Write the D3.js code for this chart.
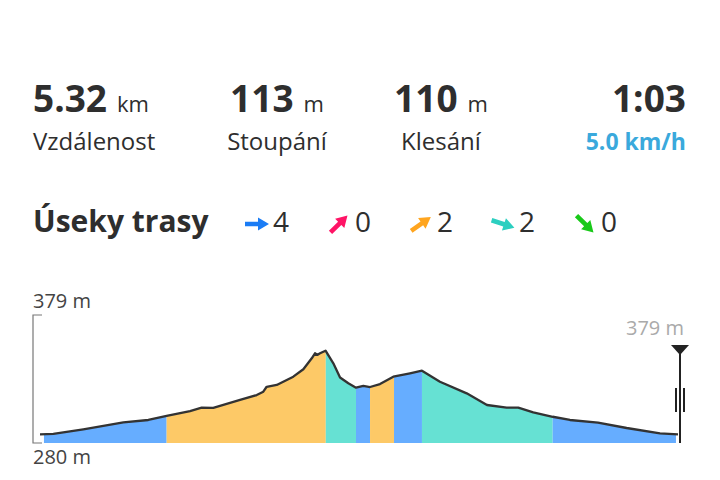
<!DOCTYPE html>
<html>
<head>
<meta charset="utf-8">
<script src="https://cdn.jsdelivr.net/npm/d3@7"></script>
<style>
  body { margin: 0; background: #fff; }
  svg { display: block; font-family: "Open Sans", sans-serif; }
</style>
</head>
<body>
<div id="chart"></div>
<script>
// header stats
const statValues = ["5.32", "113", "110", "1:03"];
const statUnits = ["km", "m", "m", ""];
const statLabels = ["Vzdálenost", "Stoupání", "Klesání", "5.0 km/h"];

// route sections legend
const sectionTitle = "Úseky trasy";
const sectionKeys = ["flat", "steepUp", "up", "down", "steepDown"];
const sectionCounts = [4, 0, 2, 2, 0];

// elevation profile
const distanceKm = [0, 0.111, 0.361, 0.695, 0.903, 1.056, 1.251, 1.348, 1.445, 1.668, 1.807, 1.862, 1.890, 1.974, 2.112, 2.196, 2.266, 2.293, 2.312, 2.335, 2.381, 2.446, 2.502, 2.571, 2.635, 2.696, 2.752, 2.835, 2.946, 3.085, 3.185, 3.335, 3.558, 3.727, 3.891, 3.988, 4.113, 4.275, 4.419, 4.653, 4.892, 5.170, 5.32];
const elevationM = [286.7, 287.0, 290.6, 296.0, 297.8, 300.9, 304.7, 307.3, 307.1, 313.3, 317.1, 319.7, 323.5, 324.9, 331.3, 337.0, 345.5, 349.4, 348.1, 349.4, 351.4, 341.6, 330.7, 326.2, 322.8, 324.1, 323.3, 325.6, 331.3, 333.9, 335.9, 327.4, 318.4, 309.4, 307.3, 307.3, 303.7, 300.3, 297.8, 295.7, 291.6, 287.5, 286.7];

// coloured route segments
const segStartKm = [0.033, 1.056, 2.383, 2.635, 2.752, 2.952, 3.185, 4.275];
const segEndKm = [1.056, 2.383, 2.635, 2.752, 2.952, 3.185, 4.275, 5.303];
const segType = ["flat", "up", "down", "flat", "up", "flat", "down", "flat"];

const elevMin = 280, elevMax = 379;
const markerElev = 379;

const width = 720, height = 480;

const svg = d3.select("#chart").append("svg")
    .attr("width", width)
    .attr("height", height);

const dark = "#2e2e2e";

// ---- header ----
const colX = [33, 277, 441, 686];
const colAnchor = ["start", "middle", "middle", "end"];

statValues.forEach((v, i) => {
    const t = svg.append("text")
        .attr("x", colX[i])
        .attr("y", 112)
        .attr("text-anchor", colAnchor[i])
        .attr("fill", dark);
    t.append("tspan")
        .attr("font-size", 37)
        .attr("font-weight", 700)
        .text(v);
    if (statUnits[i]) {
        t.append("tspan")
            .attr("dx", 10)
            .attr("font-size", 22)
            .text(statUnits[i]);
    }
});

statLabels.forEach((l, i) => {
    const last = i === statLabels.length - 1;
    svg.append("text")
        .attr("x", colX[i])
        .attr("y", 150)
        .attr("text-anchor", colAnchor[i])
        .attr("font-size", last ? 23 : 24)
        .attr("font-weight", last ? 700 : 400)
        .attr("fill", last ? "#3aa9dc" : dark)
        .text(l);
});

// ---- legend ----
svg.append("text")
    .attr("x", 33)
    .attr("y", 232)
    .attr("font-size", 30)
    .attr("font-weight", 700)
    .attr("fill", dark)
    .text(sectionTitle);

const arrowColor = d3.scaleOrdinal()
    .domain(sectionKeys)
    .range(["#1a7cf5", "#ff1466", "#ffa51f", "#2ccfc0", "#19c919"]);
const arrowAngle = d3.scaleOrdinal()
    .domain(sectionKeys)
    .range([0, -45, -35, 18, 45]);

const legendX = d3.scalePoint().domain(sectionKeys).range([257, 585]);

const item = svg.selectAll(".legend-item")
    .data(sectionKeys)
    .enter().append("g")
    .attr("class", "legend-item")
    .attr("transform", d => `translate(${legendX(d)},224)`);

item.append("path")
    .attr("d", "M-12,-2.3 L1,-2.3 L1,-6.5 L12,0 L1,6.5 L1,2.3 L-12,2.3 Z")
    .attr("fill", d => arrowColor(d))
    .attr("transform", d => `rotate(${arrowAngle(d)})`);

item.append("text")
    .attr("x", 16)
    .attr("y", 8)
    .attr("font-size", 28)
    .attr("fill", dark)
    .text((d, i) => sectionCounts[i]);

// ---- elevation chart ----
const x = d3.scaleLinear().domain([0, 5.32]).range([40, 678]);
const y = d3.scaleLinear().domain([elevMin, elevMax]).range([443, 315]);

const profile = distanceKm.map((d, i) => ({ d: d, e: elevationM[i] }));

const area = d3.area()
    .x(p => x(p.d))
    .y0(y(elevMin))
    .y1(p => y(p.e));

svg.append("clipPath")
    .attr("id", "profile-clip")
    .append("path")
    .attr("d", area(profile));

const fillColor = d3.scaleOrdinal()
    .domain(sectionKeys)
    .range(["#66adff", "#ff6f9a", "#fdc967", "#66e1d3", "#6fdc6f"]);

svg.append("g")
    .attr("clip-path", "url(#profile-clip)")
    .selectAll("rect")
    .data(segStartKm)
    .enter().append("rect")
    .attr("x", d => x(d))
    .attr("y", y(elevMax))
    .attr("width", (d, i) => x(segEndKm[i]) - x(d))
    .attr("height", y(elevMin) - y(elevMax))
    .attr("fill", (d, i) => fillColor(segType[i]));

const line = d3.line()
    .x(p => x(p.d))
    .y(p => y(p.e));

svg.append("path")
    .attr("d", line(profile))
    .attr("fill", "none")
    .attr("stroke", "#333")
    .attr("stroke-width", 2.3)
    .attr("stroke-linejoin", "round");

// left range bracket
const bx = 33;
svg.append("path")
    .attr("d", `M${bx + 9},${y(elevMax)} H${bx} V${y(elevMin)} H${bx + 9}`)
    .attr("fill", "none")
    .attr("stroke", "#777")
    .attr("stroke-width", 1.2);

svg.append("text")
    .attr("x", bx)
    .attr("y", y(elevMax) - 7)
    .attr("font-size", 20)
    .attr("fill", "#444")
    .text(elevMax + " m");

svg.append("text")
    .attr("x", bx)
    .attr("y", y(elevMin) + 21)
    .attr("font-size", 20)
    .attr("fill", "#444")
    .text(elevMin + " m");

// current position marker at route end
const mx = 680;
const marker = svg.append("g");
marker.append("line")
    .attr("x1", mx).attr("x2", mx)
    .attr("y1", 354).attr("y2", y(elevMin))
    .attr("stroke", "#222")
    .attr("stroke-width", 2);
marker.selectAll(".bar")
    .data([-4, 4])
    .enter().append("line")
    .attr("x1", d => mx + d).attr("x2", d => mx + d)
    .attr("y1", 388).attr("y2", 412)
    .attr("stroke", "#222")
    .attr("stroke-width", 2);
marker.append("path")
    .attr("d", `M${mx - 9},345 H${mx + 9} L${mx},355 Z`)
    .attr("fill", "#222");
marker.append("text")
    .attr("x", mx + 4)
    .attr("y", 335)
    .attr("text-anchor", "end")
    .attr("font-size", 20)
    .attr("fill", "#aaa")
    .text(markerElev + " m");
</script>
</body>
</html>
